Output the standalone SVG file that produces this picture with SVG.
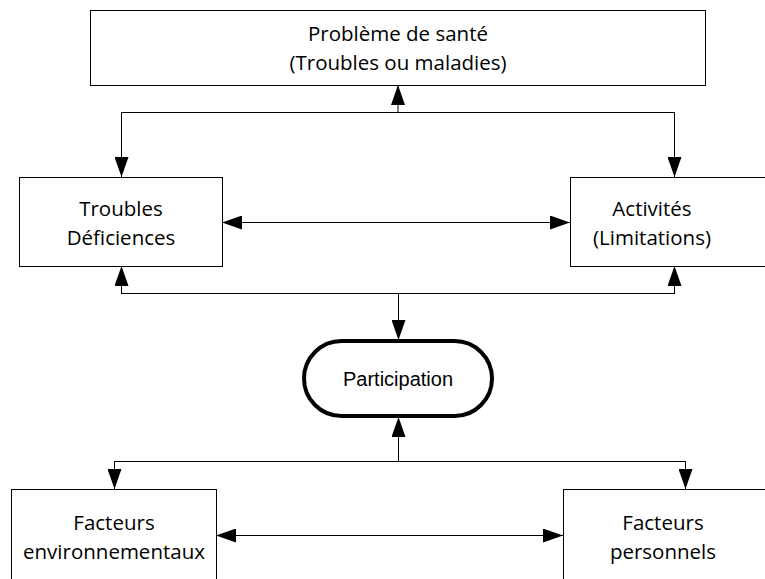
<svg xmlns="http://www.w3.org/2000/svg" width="765" height="579" viewBox="0 0 765 579">
<defs>
<marker id="ah" viewBox="0 0 20 14" refX="20" refY="7" markerWidth="20" markerHeight="14" markerUnits="userSpaceOnUse" orient="auto-start-reverse">
<path d="M0,0 L20,7 L0,14 z" fill="#000"/>
</marker>
<style>
.box{fill:#fff;stroke:#000;stroke-width:1}
.t{font-family:"Open Sans","Noto Sans",sans-serif;font-size:20.5px;fill:#000;text-anchor:middle}
.p{font-family:"Liberation Sans",Arial,sans-serif;font-size:20px;fill:#000;text-anchor:middle}
.c{fill:none;stroke:#000;stroke-width:1}
.a{marker-end:url(#ah)}
.d{marker-start:url(#ah);marker-end:url(#ah)}
</style>
</defs>
<rect width="765" height="579" fill="#fff"/>
<g id="connectors">
<path class="c a" d="M398,112.5 V85"/>
<path class="c" d="M121,112.5 H674"/>
<path class="c a" d="M121.5,112 V177"/>
<path class="c a" d="M674.5,112 V177"/>
<path class="c d" d="M222,222.5 H570"/>
<path class="c" d="M121,293.5 H674"/>
<path class="c a" d="M121.5,294 V266"/>
<path class="c a" d="M674.5,294 V266"/>
<path class="c a" d="M398.5,293 V340"/>
<path class="c a" d="M398.5,461 V417"/>
<path class="c" d="M114,461.5 H685"/>
<path class="c a" d="M114.5,461 V489"/>
<path class="c a" d="M685.5,461 V489"/>
<path class="c d" d="M216,535.5 H563"/>
</g>
<g id="probleme">
<rect class="box" x="90.5" y="10.5" width="615" height="75"/>
<text class="t" x="398" y="41">Problème de santé</text>
<text class="t" x="398" y="70">(Troubles ou maladies)</text>
</g>
<g id="troubles">
<rect class="box" x="19.5" y="177.5" width="203" height="89"/>
<text class="t" x="121" y="216">Troubles</text>
<text class="t" x="121" y="245">Déficiences</text>
</g>
<g id="activites">
<rect class="box" x="570.5" y="177.5" width="200" height="89"/>
<text class="t" x="652" y="216">Activités</text>
<text class="t" x="652" y="245">(Limitations)</text>
</g>
<g id="participation">
<rect x="304" y="341" width="188" height="75" rx="37.5" ry="37.5" fill="#fff" stroke="#000" stroke-width="4"/>
<text class="p" x="398" y="386">Participation</text>
</g>
<g id="env">
<rect class="box" x="11.5" y="489.5" width="205" height="100"/>
<text class="t" x="114" y="530">Facteurs</text>
<text class="t" x="114" y="559">environnementaux</text>
</g>
<g id="perso">
<rect class="box" x="563.5" y="489.5" width="210" height="100"/>
<text class="t" x="663" y="530">Facteurs</text>
<text class="t" x="663" y="559">personnels</text>
</g>
</svg>
